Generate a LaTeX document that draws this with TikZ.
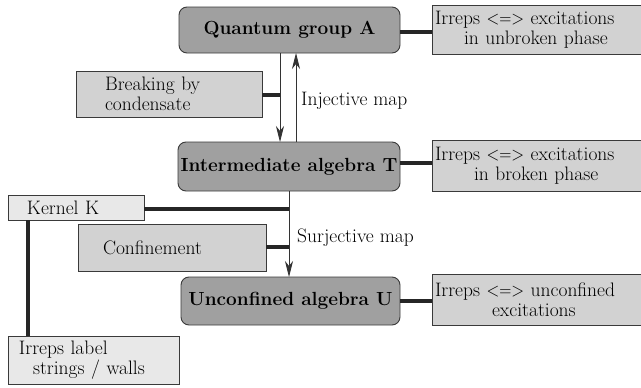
\documentclass[tikz,border=0pt]{standalone}
\usepackage{fontspec}
\usepackage{graphicx}
\usetikzlibrary{arrows.meta}
\definecolor{darkbox}{HTML}{A0A0A0}
\definecolor{lightbox}{HTML}{D2D2D2}
\definecolor{paleboxc}{HTML}{E8E8E8}
\definecolor{edgec}{HTML}{3A3A3A}
\newcommand{\lrarrow}{\scalebox{0.86}[1]{<=>}}
\begin{document}
\begin{tikzpicture}[x=1pt,y=-1pt,
  every node/.style={font=\fontsize{19.5}{20.5}\selectfont},
  algbox/.style={draw=edgec,line width=0.9pt,fill=darkbox,rounded corners=8pt,
     font=\fontsize{19}{20}\selectfont\bfseries,inner sep=0pt,anchor=center},
  infobox/.style={draw=edgec,line width=0.8pt,fill=lightbox,inner ysep=0pt,anchor=center,align=left},
  palebox/.style={infobox,fill=paleboxc},
  thickcon/.style={line width=3.5pt,draw=black!85},
  maparrow/.style={line width=0.8pt,draw=black!80,-{Stealth[length=16pt,width=8pt,inset=5pt]}},
  maplabel/.style={anchor=west,inner sep=0pt}
]
\useasboundingbox (0,0) rectangle (641,388);

% main algebra boxes
\node[algbox,minimum width=221pt,minimum height=46pt] (A) at (289.5,30) {Quantum group A};
\node[algbox,minimum width=222pt,minimum height=49pt] (T) at (289,166.5) {Intermediate algebra T};
\node[algbox,minimum width=219pt,minimum height=48pt] (U) at (290.5,301) {Unconfined algebra U};

% right info boxes
\node[infobox,minimum height=49pt,inner xsep=3pt,text width=203pt] (IA) at (536.5,29.5)
  {Irreps \lrarrow{} excitations\\\hspace*{29pt}in unbroken phase};
\node[infobox,minimum height=51pt,inner xsep=3pt,text width=203pt] (IT) at (536.5,165.5)
  {Irreps \lrarrow{} excitations\\\hspace*{39pt}in broken phase};
\node[infobox,minimum height=51pt,inner xsep=3pt,text width=203pt] (IU) at (536.5,299.5)
  {Irreps \lrarrow{} unconfined\\\hspace*{57pt}excitations};

% left boxes
\node[infobox,minimum height=46pt,inner xsep=29pt,text width=128pt] (B) at (169,94)
  {Breaking by\\condensate};
\node[infobox,minimum height=47pt,inner xsep=25pt,text width=138pt] (C) at (172,247.5)
  {Confinement};
\node[palebox,minimum height=25pt,inner xsep=19pt,text width=98pt] (K) at (76,207.5)
  {Kernel K};
\node[palebox,minimum height=48pt,inner xsep=11pt,text width=149pt] (L) at (93.5,360)
  {Irreps label\\\hspace*{14pt}strings / walls};

% map arrows
\coordinate (Adown) at (280,53);
\coordinate (Tdown) at (280,142);
\coordinate (Aup) at (296,53);
\coordinate (Tup) at (296,142);
\coordinate (Tsur) at (289,191);
\coordinate (Usur) at (289,277);
\draw[maparrow] (Adown) -- (Tdown);
\draw[maparrow] (Tup) -- (Aup);
\draw[maparrow] (Tsur) -- (Usur);

\node[maplabel] (inj) at (301,101) {Injective map};
\node[maplabel] (sur) at (297,238) {Surjective map};

% thick connectors
\coordinate (Bj) at (280,95);
\coordinate (Kj) at (289,209);
\coordinate (Cj) at (289,247);
\draw[thickcon] (B.east |- Bj) -- (Bj);
\draw[thickcon] (K.east |- Kj) -- (Kj);
\draw[thickcon] (C.east |- Cj) -- (Cj);
\draw[thickcon] (A.east |- 0,32) -- (IA.west |- 0,32);
\draw[thickcon] (T.east |- 0,163) -- (IT.west |- 0,163);
\draw[thickcon] (U.east |- 0,301) -- (IU.west |- 0,301);
\draw[thickcon] (K.south -| 28,0) -- (L.north -| 28,0);
\end{tikzpicture}
\end{document}
